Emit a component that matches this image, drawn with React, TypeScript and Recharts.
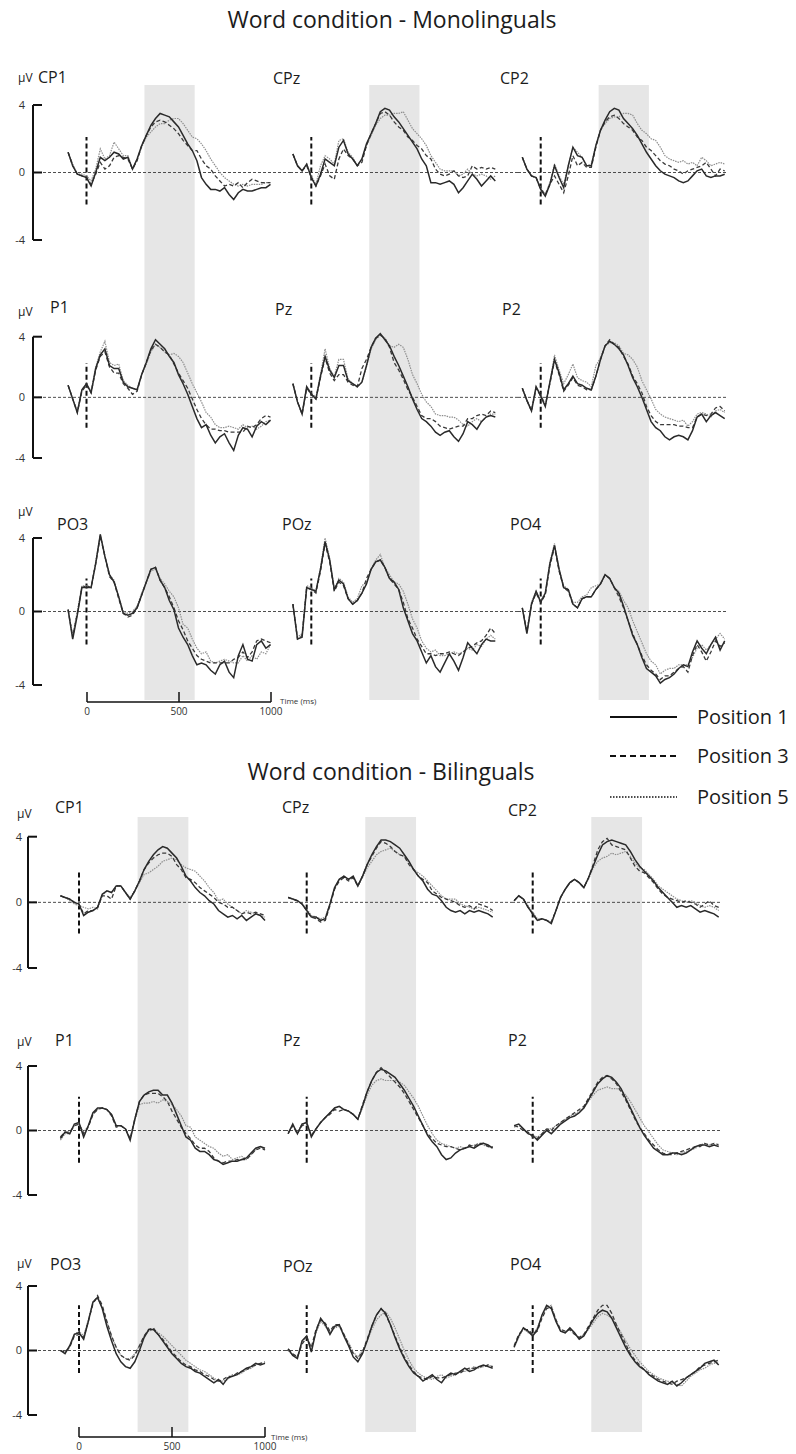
import React from 'react'
import { LineChart, Line, XAxis, YAxis, ReferenceArea, ReferenceLine } from 'recharts'

// time points (ms) shared by every panel
const times = [-100, -75, -50, -25, 0, 25, 50, 75, 100, 125, 150, 175, 200, 225, 250, 275, 300, 325, 350, 375, 400, 425, 450, 475, 500, 525, 550, 575, 600, 625, 650, 675, 700, 725, 750, 775, 800, 825, 850, 875, 900, 925, 950, 975, 1000]

// analysis window (ms)
const window = [315, 588]

// ---- Monolinguals (µV) : _1 = Position 1, _3 = Position 3, _5 = Position 5
const mCP1_1 = [1.2,0.4,-0.1,-0.2,-0.3,-0.8,0,0.9,0.7,0.9,1.2,1.1,0.8,0.9,0.2,0.8,1.6,2.2,2.8,3.2,3.5,3.4,3.3,3.0,2.7,2.2,1.7,1.3,0.7,-0.3,-0.7,-1.0,-1.0,-1.1,-0.9,-1.3,-1.6,-1.2,-1.0,-1.1,-1.1,-1.0,-0.9,-0.9,-0.7]
const mCP1_3 = [1.2,0.4,-0.1,-0.2,-0.3,-0.7,-0.1,0.6,0.2,0.4,0.9,1.0,0.9,0.8,0.2,0.7,1.6,2.2,2.7,3.0,3.1,3.0,2.8,2.6,2.3,1.9,1.6,1.3,1.3,0.8,0.4,0.2,-0.2,-0.5,-0.8,-0.7,-0.8,-0.6,-0.9,-0.6,-0.4,-0.5,-0.6,-0.6,-0.6]
const mCP1_5 = [1.2,0.5,-0.1,-0.1,-0.2,-0.5,0.2,1.4,0.8,1.0,1.8,1.4,1.0,1.0,0.2,0.8,1.5,2.1,2.4,2.7,2.9,2.9,3.1,3.2,3.2,2.9,2.5,2.1,2.0,1.7,1.3,0.8,0.4,0,-0.3,-0.5,-0.7,-0.8,-0.7,-0.8,-0.7,-0.7,-0.7,-0.6,-0.6]

const mCPz_1 = [1.1,0.4,0.1,0.5,-0.3,-0.8,-0.1,0.8,0.6,0.4,1.5,1.9,1.1,0.8,0.4,0.8,1.7,2.3,2.9,3.6,3.8,3.7,3.3,3.0,2.6,2.2,1.8,1.4,0.8,0.4,-0.6,-0.6,-0.7,-0.6,-0.5,-0.7,-1.2,-0.9,-0.5,-0.1,-0.4,-0.8,-0.5,-0.2,-0.5]
const mCPz_3 = [1.1,0.4,0.1,0.4,-0.3,-0.8,-0.2,0.5,-0.2,-0.4,0.8,1.4,1.0,0.8,0.4,0.6,1.6,2.3,2.9,3.5,3.6,3.4,3.0,2.7,2.5,2.1,1.9,1.6,1.4,1.0,0.8,0.2,-0.1,-0.2,-0.1,0.1,-0.2,-0.3,-0.2,0.4,0.2,0.3,0.2,0.3,0.2]
const mCPz_5 = [1.1,0.4,0.1,0.5,-0.2,-0.7,0.4,1.0,0.8,0.5,1.9,2.0,1.2,0.9,0.4,0.8,1.6,2.2,2.8,3.2,3.4,3.4,3.5,3.5,3.6,3.1,2.6,2.3,2.0,1.6,1.0,0.6,0.2,0.1,0.1,0.1,-0.2,-0.1,0.2,-0.1,-0.2,-0.1,-0.2,-0.4,-0.2]

const mCP2_1 = [0.9,0.2,-0.2,-0.3,-1.0,-1.4,-0.7,0.4,-0.3,-0.9,0.4,1.5,1.0,0.9,0.4,0.4,1.6,2.5,3.1,3.6,3.8,3.7,3.2,2.9,2.6,2.2,1.7,1.2,0.8,0.4,0.1,-0.1,-0.2,-0.3,-0.5,-0.6,-0.5,-0.2,0.1,0.2,-0.2,-0.3,-0.2,-0.2,-0.1]
const mCP2_3 = [0.9,0.2,-0.2,-0.3,-1.0,-1.3,-0.7,-0.2,-0.7,-1.2,-0.2,1.0,0.4,0.6,0.3,0.3,1.5,2.5,3.0,3.3,3.4,3.2,2.9,2.7,2.5,2.1,1.9,1.5,1.3,1.0,0.7,0.5,0.4,0.2,0.1,-0.1,0.1,0.2,0.3,0.4,0.6,0.2,-0.2,0.2,0.1]
const mCP2_5 = [0.9,0.2,-0.2,-0.3,-0.9,-1.3,-0.6,0.5,-0.2,-0.7,0.4,1.5,1.2,0.9,0.4,0.5,1.6,2.5,2.9,3.2,3.3,3.3,3.5,3.5,3.4,2.9,2.5,2.3,2.0,1.9,1.5,1.0,0.8,0.7,0.6,0.7,0.5,0.6,0.4,0.9,0.7,0.4,0.5,0.6,0.5]

const mP1_1 = [0.8,-0.1,-1.0,0.5,0.9,0.3,1.9,2.8,3.2,2.1,1.9,1.9,1.0,0.7,0.6,0.5,1.5,2.3,3.2,3.8,3.5,3.2,2.7,2.3,1.5,0.9,0.2,-0.6,-1.4,-2.0,-1.8,-2.5,-3.0,-2.6,-2.4,-3.0,-3.5,-2.5,-2.0,-2.1,-2.6,-1.9,-1.6,-1.8,-1.5]
const mP1_3 = [0.8,-0.1,-1.0,0.4,0.8,0.3,1.8,2.7,3.0,2.0,1.6,1.6,0.9,0.6,0.2,0.4,1.5,2.3,3.1,3.5,3.3,3.0,2.8,2.2,1.6,1.1,0.6,-0.1,-0.8,-1.4,-1.8,-2.1,-2.1,-2.2,-2.2,-2.3,-2.3,-2.3,-2.3,-1.9,-2.0,-1.8,-1.4,-1.2,-1.3]
const mP1_5 = [0.8,-0.1,-0.9,0.5,0.9,0.4,2.0,3.0,3.7,2.3,2.1,2.2,1.1,0.8,0.6,0.5,1.5,2.2,3.0,3.5,3.3,3.0,2.8,2.9,2.7,2.3,1.6,0.9,0.3,-0.3,-1.0,-1.3,-1.8,-2.0,-2.0,-1.9,-2.0,-2.1,-1.8,-2.0,-1.9,-2.1,-1.9,-1.6,-1.5]

const mPz_1 = [0.9,-0.3,-1.1,0.7,0.2,-0.1,1.4,2.7,1.8,1.3,2.1,2.1,1.1,0.9,0.7,1.0,2.1,3.3,3.9,4.2,3.8,3.4,2.7,2.1,1.4,0.7,-0.1,-0.8,-1.4,-1.6,-1.9,-2.3,-2.5,-2.3,-2.2,-2.6,-2.9,-2.4,-1.6,-1.8,-2.1,-1.6,-1.3,-1.2,-1.3]
const mPz_3 = [0.9,-0.3,-1.1,0.6,0.2,-0.1,1.3,2.6,1.6,1.1,1.5,1.5,1.0,0.8,0.7,1.9,2.5,3.3,3.9,4.1,3.9,3.3,2.3,1.8,1.2,0.5,0,-0.6,-1.2,-1.4,-1.4,-1.6,-1.9,-2.0,-2.1,-2.0,-1.9,-1.9,-1.4,-1.4,-1.2,-1.1,-1.2,-0.9,-1.0]
const mPz_5 = [0.9,-0.3,-1.0,0.7,0.3,0,1.5,3.2,1.9,1.4,2.5,2.5,1.2,0.9,0.7,1.0,2.0,3.2,3.8,4.1,3.9,3.4,3.3,3.5,3.3,2.5,1.5,0.9,0.2,-0.3,-0.6,-1.1,-1.2,-1.2,-1.3,-1.3,-1.5,-1.8,-1.9,-1.6,-1.4,-1.6,-1.3,-1.1,-1.1]

const mP2_1 = [0.6,-0.2,-0.9,0.7,0.1,-0.6,1.0,2.5,1.6,0.5,0.9,1.4,0.9,0.8,0.6,0.5,1.4,2.5,3.4,3.7,3.5,3.2,2.8,2.1,1.3,0.7,0,-0.8,-1.6,-2.0,-2.2,-2.6,-2.8,-2.6,-2.5,-2.6,-2.8,-2.2,-1.3,-1.1,-1.6,-1.2,-1.0,-1.2,-1.4]
const mP2_3 = [0.6,-0.2,-0.9,0.6,0.1,-0.5,0.9,2.4,1.5,0.4,0.8,1.3,0.8,0.7,0.5,0.5,1.4,2.5,3.4,3.8,3.5,3.3,2.7,2.2,1.4,0.9,0.3,-0.6,-1.2,-1.6,-1.8,-1.8,-1.8,-1.8,-1.9,-1.9,-2.0,-2.0,-1.3,-1.1,-1.2,-1.1,-0.7,-0.6,-0.9]
const mP2_5 = [0.6,-0.2,-0.8,0.7,0.2,-0.5,1.0,2.8,1.8,0.9,1.5,2.2,1.3,1.1,1.0,0.7,2.1,2.6,3.4,3.6,3.6,3.4,2.9,2.8,2.5,2.0,1.1,0.5,-0.1,-0.8,-1.1,-1.3,-1.4,-1.5,-1.6,-1.5,-1.9,-1.6,-1.1,-1.0,-1.1,-1.3,-0.9,-0.8,-1.0]

const mPO3_1 = [0.1,-1.5,-0.2,1.3,1.3,1.3,2.6,4.2,3.0,2.0,1.6,0.8,-0.1,-0.2,-0.1,0.2,0.9,1.6,2.3,2.4,1.7,1.3,0.6,0.1,-0.9,-1.4,-1.8,-2.4,-2.9,-2.8,-2.9,-3.2,-3.4,-2.9,-2.7,-3.3,-3.6,-2.4,-1.8,-2.6,-2.7,-1.8,-1.6,-2.0,-1.8]
const mPO3_3 = [0.1,-1.4,-0.1,1.3,1.4,1.3,2.6,4.1,3.0,1.9,1.6,0.7,-0.1,-0.3,-0.2,0.2,0.9,1.6,2.3,2.4,1.7,1.3,0.8,0.2,-0.5,-1.0,-1.6,-2.0,-2.4,-2.6,-2.7,-2.8,-2.8,-2.8,-2.8,-2.8,-2.6,-2.5,-2.2,-2.5,-2.2,-1.6,-1.5,-1.6,-1.7]
const mPO3_5 = [0.1,-1.3,0,1.4,1.4,1.3,2.7,4.2,3.0,2.0,1.7,0.8,0,-0.1,0,0.3,1.0,1.6,2.2,2.3,1.8,1.5,1.1,0.8,0.2,-0.7,-0.9,-1.5,-2.0,-2.3,-2.2,-2.7,-2.8,-2.7,-2.6,-2.7,-2.8,-2.8,-2.4,-2.7,-2.4,-2.6,-2.2,-2.3,-1.8]

const mPOz_1 = [0.4,-1.5,-1.4,1.3,1.2,1.1,2.3,3.8,2.8,1.2,1.7,1.5,0.7,0.4,0.6,1.0,1.5,2.3,2.7,2.8,2.4,1.8,1.6,1.2,0.2,-0.5,-1.2,-1.6,-2.2,-2.8,-2.4,-3.0,-3.3,-2.8,-2.3,-2.7,-3.2,-2.5,-1.7,-2.0,-2.3,-1.8,-1.5,-1.6,-1.6]
const mPOz_3 = [0.4,-1.5,-1.3,1.3,1.2,1.0,2.2,3.7,2.7,1.1,1.6,1.4,0.7,0.4,0.6,1.0,1.8,2.3,2.7,2.8,2.4,1.8,1.5,1.2,0.5,-0.4,-0.9,-1.5,-1.9,-2.3,-2.3,-2.4,-2.3,-2.3,-2.2,-2.3,-2.4,-2.2,-2.0,-1.9,-1.7,-1.6,-1.3,-0.9,-1.2]
const mPOz_5 = [0.4,-1.4,-1.2,1.4,1.3,1.1,2.4,4.0,2.9,1.2,1.8,1.6,0.8,0.5,0.7,1.4,1.6,2.3,2.8,3.1,2.4,2.0,1.6,1.5,1.1,0.4,-0.4,-0.9,-1.6,-2.0,-2.2,-2.1,-2.4,-2.4,-2.3,-2.2,-2.3,-2.2,-2.0,-2.1,-1.8,-1.9,-1.5,-1.3,-1.5]

const mPO4_1 = [0.2,-1.2,0.4,1.1,0.5,1.0,2.6,3.6,2.3,1.3,1.2,0.4,0.2,0.7,0.8,0.8,1.2,1.5,2.0,1.8,1.3,1.0,0.3,-0.5,-1.3,-1.8,-2.5,-3.1,-3.3,-3.5,-3.9,-3.7,-3.6,-3.4,-3.1,-2.9,-3.0,-2.2,-1.6,-2.0,-2.3,-1.8,-1.4,-2.1,-1.6]
const mPO4_3 = [0.2,-1.1,0.4,1.0,0.5,0.9,2.5,3.5,2.2,1.3,1.1,0.4,0.2,0.7,0.8,0.8,1.2,1.5,2.0,1.8,1.3,0.8,0.2,-0.5,-1.2,-1.8,-2.4,-2.9,-3.2,-3.4,-3.7,-3.5,-3.5,-3.3,-3.1,-3.0,-3.3,-2.4,-1.8,-2.2,-2.7,-2.2,-1.6,-1.9,-1.7]
const mPO4_5 = [0.2,-1.1,0.5,1.1,0.6,1.0,2.7,3.7,2.3,1.4,1.2,0.5,0.5,0.8,0.9,1.3,1.4,1.5,2.0,1.8,1.3,1.1,0.6,0.2,-0.5,-1.1,-1.7,-2.3,-2.7,-2.9,-3.4,-3.2,-3.1,-3.1,-2.9,-2.9,-2.9,-2.5,-2.0,-1.8,-2.1,-1.8,-1.5,-1.2,-1.5]

// ---- Bilinguals (µV)
const bCP1_1 = [0.4,0.3,0.2,0,-0.1,-0.8,-0.6,-0.5,-0.3,0.5,0.7,0.6,1.0,1.0,0.6,0.2,0.7,1.3,2.0,2.5,2.9,3.2,3.4,3.3,3.0,2.7,2.2,1.6,1.3,0.9,0.6,0.4,0.1,-0.1,-0.5,-0.7,-0.9,-0.8,-1.0,-0.8,-1.1,-0.9,-0.7,-0.8,-1.1]
const bCP1_3 = [0.4,0.3,0.2,0,-0.1,-0.7,-0.5,-0.5,-0.3,0.4,0.4,0.2,1.0,1.0,0.6,0.2,0.7,1.3,2.0,2.4,2.7,2.9,3.0,3.0,2.8,2.3,2.0,1.5,1.4,1.2,0.9,0.7,0.5,0.3,0,-0.1,-0.3,-0.3,-0.5,-0.7,-0.6,-0.7,-0.6,-0.7,-0.8]
const bCP1_5 = [0.4,0.3,0.1,-0.1,-0.2,-0.3,-0.4,-0.3,-0.4,0.4,0.7,0.6,1.0,1.0,0.6,0.3,0.7,1.2,1.7,1.8,2.0,2.2,2.5,2.6,2.7,2.6,2.3,2.1,2.0,1.9,1.6,1.3,0.9,0.6,0.1,0.2,-0.1,-0.3,-0.5,-0.7,-0.5,-0.6,-0.7,-0.8,-0.9]

const bCPz_1 = [0.3,0.2,0.1,-0.1,-0.5,-0.9,-0.9,-1.1,-1.0,-0.1,0.9,1.4,1.6,1.4,1.6,1.0,1.6,2.3,2.9,3.4,3.8,3.8,3.7,3.5,3.3,2.9,2.5,2.0,1.6,1.3,0.8,0.5,0.4,0.1,-0.3,-0.5,-0.6,-0.5,-0.7,-0.5,-0.6,-0.5,-0.6,-0.7,-0.9]
const bCPz_3 = [0.3,0.2,0.1,-0.1,-0.5,-0.9,-1.0,-1.2,-1.1,-0.2,0.8,1.3,1.5,1.3,1.5,1.0,1.6,2.3,2.8,3.3,3.7,3.6,3.4,3.1,2.9,2.8,2.3,2.0,1.6,1.4,1.2,0.7,0.5,0.3,0.2,0.1,0,-0.2,-0.3,-0.2,-0.4,-0.1,-0.2,-0.3,-0.5]
const bCPz_5 = [0.3,0.2,0.1,-0.1,-0.4,-0.8,-0.9,-1.0,-0.9,-0.1,0.9,1.4,1.6,1.4,1.5,1.0,1.5,2.1,2.5,2.9,3.1,3.2,3.3,3.1,2.9,2.8,2.4,2.0,1.8,1.6,1.3,1.0,0.7,0.4,0.2,0.2,0.2,-0.1,-0.2,-0.3,-0.4,-0.3,-0.4,-0.5,-0.6]

const bCP2_1 = [0.1,0.4,0.2,-0.3,-0.7,-1.1,-1.0,-1.1,-1.3,-0.5,0.3,0.8,1.2,1.4,1.2,0.9,1.5,2.2,2.9,3.5,3.7,3.8,3.7,3.6,3.5,3.1,2.6,2.2,1.9,1.6,1.3,0.9,0.6,0.3,0,-0.3,-0.2,-0.3,-0.2,-0.4,-0.6,-0.5,-0.6,-0.7,-0.9]
const bCP2_3 = [0.1,0.4,0.2,-0.3,-0.7,-1.1,-1.0,-1.1,-1.2,-0.5,0.3,0.8,1.2,1.4,1.2,0.9,1.5,2.3,3.2,3.7,3.9,3.5,3.4,3.3,3.2,2.7,2.2,1.9,1.8,1.5,1.2,0.8,0.5,0.3,0.2,0.1,0,0.1,0,-0.1,-0.3,-0.1,0.1,-0.2,-0.3]
const bCP2_5 = [0.1,0.4,0.2,-0.2,-0.6,-1.0,-1.0,-1.1,-1.2,-0.5,0.3,0.8,1.2,1.4,1.2,0.9,1.4,2.1,2.5,2.7,2.8,3.0,2.9,3.0,3.1,2.8,2.4,2.1,2.0,1.7,1.4,1.0,0.8,0.6,0.4,0.2,0.1,0,0.1,0,-0.2,-0.3,-0.2,-0.3,-0.5]

const bP1_1 = [-0.5,-0.1,-0.2,0.4,0.5,-0.4,0.3,1.1,1.4,1.4,1.3,1.0,0.3,0.3,0.1,-0.6,0.7,1.8,2.2,2.4,2.5,2.5,2.2,2.2,1.7,1.0,0.3,-0.4,-0.6,-1.1,-1.3,-1.3,-1.5,-1.8,-1.9,-2.1,-2.0,-1.9,-1.9,-1.8,-1.7,-1.4,-1.1,-1.0,-1.1]
const bP1_3 = [-0.4,-0.1,-0.1,0.3,0.4,-0.2,0.2,1.0,1.3,1.4,1.3,0.9,0.2,0.3,0.1,-0.5,0.7,1.8,2.2,2.3,2.3,2.3,2.1,1.8,1.2,0.7,0.2,-0.2,-0.5,-0.9,-1.1,-1.1,-1.3,-1.7,-1.9,-2.0,-1.9,-1.9,-1.8,-1.8,-1.8,-1.5,-1.2,-1.1,-1.2]
const bP1_5 = [-0.6,-0.2,-0.2,0.3,0.4,-0.1,0.3,1.0,1.3,1.4,1.3,1.0,0.3,0.3,0.1,-0.5,0.6,1.6,1.7,1.7,1.8,1.7,1.9,1.8,1.6,1.3,0.9,0.3,0.2,-0.4,-0.6,-0.8,-1.0,-1.1,-1.4,-1.6,-1.5,-1.8,-1.7,-1.6,-1.8,-1.5,-1.2,-1.0,-1.2]

const bPz_1 = [-0.2,0.4,-0.2,0.4,0.5,-0.4,0.1,0.5,0.8,1.1,1.4,1.5,1.3,1.2,1.0,0.7,1.5,2.4,3.1,3.6,3.8,3.7,3.5,3.3,2.9,2.5,2.0,1.5,0.9,0.3,-0.3,-0.7,-1.0,-1.5,-1.8,-1.7,-1.4,-1.2,-1.1,-1.0,-1.1,-0.9,-0.8,-0.9,-1.1]
const bPz_3 = [-0.2,0.3,-0.2,0.3,0.4,-0.3,0.1,0.5,0.8,1.0,1.3,1.2,1.3,1.2,1.0,0.7,1.6,2.4,3.1,3.6,3.9,3.6,3.3,3.0,2.7,2.3,1.8,1.3,0.8,0.3,-0.2,-0.5,-0.8,-0.9,-1.0,-1.0,-1.1,-1.2,-1.1,-0.9,-1.0,-0.8,-0.8,-1.0,-1.0]
const bPz_5 = [-0.1,0.3,-0.1,0.4,0.5,-0.3,0.1,0.5,0.8,1.1,1.4,1.5,1.3,1.2,1.0,0.7,1.4,2.2,2.8,3.1,3.2,3.1,3.1,3.1,3.0,2.8,2.4,2.0,1.5,0.9,0.3,-0.2,-0.6,-0.8,-0.9,-1.0,-1.1,-1.0,-1.1,-1.0,-0.9,-0.8,-0.9,-1.0,-1.1]

const bP2_1 = [0.3,0.4,0.1,-0.2,-0.3,-0.6,-0.3,0,-0.2,0.1,0.4,0.6,0.8,0.9,1.1,1.4,1.9,2.4,2.9,3.2,3.4,3.3,3.0,2.6,2.0,1.4,0.8,0.2,-0.3,-0.7,-1.1,-1.3,-1.5,-1.5,-1.4,-1.4,-1.5,-1.4,-1.2,-1.0,-0.9,-0.9,-1.0,-0.9,-1.0]
const bP2_3 = [0.3,0.2,0,-0.1,-0.4,-0.5,-0.2,0.1,0,0.3,0.5,0.7,0.9,1.1,1.3,1.5,2.0,2.5,3.0,3.3,3.4,3.2,2.9,2.4,1.9,1.3,0.7,0.2,-0.2,-0.6,-0.9,-1.2,-1.4,-1.5,-1.5,-1.4,-1.3,-1.2,-1.1,-1.0,-1.0,-0.8,-0.9,-0.8,-0.9]
const bP2_5 = [0.2,0.3,0.1,-0.2,-0.3,-0.4,-0.2,0.1,0.1,0.3,0.5,0.7,0.9,1.0,1.2,1.4,1.8,2.2,2.5,2.6,2.7,2.6,2.6,2.5,2.2,1.8,1.3,0.8,0.3,-0.1,-0.5,-0.9,-1.2,-1.3,-1.4,-1.5,-1.4,-1.3,-1.2,-1.1,-0.9,-0.8,-0.9,-0.9,-0.8]

const bPO3_1 = [0,-0.2,0.3,1.0,1.1,0.7,1.8,3.0,3.3,2.6,1.5,0.6,-0.2,-0.7,-1.0,-1.1,-0.7,0,0.8,1.3,1.3,1.0,0.6,0.2,-0.2,-0.5,-0.8,-1.0,-1.1,-1.3,-1.4,-1.6,-1.8,-2.0,-1.8,-2.1,-1.7,-1.6,-1.5,-1.3,-1.1,-1.0,-0.8,-0.9,-0.8]
const bPO3_3 = [0,-0.1,0.2,0.9,1.0,0.8,1.8,2.9,3.4,2.8,1.8,0.9,0.2,-0.3,-0.5,-0.6,-0.3,0.3,0.9,1.3,1.4,1.0,0.7,0.3,-0.1,-0.4,-0.7,-0.9,-1.0,-1.2,-1.3,-1.5,-1.6,-1.8,-1.9,-1.8,-1.6,-1.6,-1.4,-1.3,-1.2,-1.0,-0.9,-0.8,-0.7]
const bPO3_5 = [0,-0.1,0.2,1.0,1.2,0.9,1.9,3.0,3.2,2.7,1.8,0.9,0.2,-0.3,-0.5,-0.5,-0.2,0.3,0.9,1.2,1.3,1.1,0.9,0.6,0.3,0,-0.3,-0.6,-0.8,-1.0,-1.2,-1.3,-1.5,-1.7,-1.9,-1.9,-1.8,-1.5,-1.5,-1.4,-1.2,-1.1,-0.9,-0.8,-0.8]

const bPOz_1 = [0.1,-0.3,-0.5,0.6,0.9,-0.1,1.2,2.0,1.6,1.0,1.5,1.6,0.9,0.3,-0.4,-0.7,-0.2,0.6,1.5,2.2,2.6,2.3,1.6,0.8,0.1,-0.5,-1.0,-1.4,-1.6,-1.9,-1.7,-1.5,-1.8,-2.0,-1.6,-1.4,-1.5,-1.3,-1.1,-1.3,-1.2,-1.0,-0.9,-1.0,-1.1]
const bPOz_3 = [0.1,-0.2,-0.4,0.4,0.8,0.2,1.3,1.9,1.7,1.2,1.6,1.6,1.0,0.4,-0.2,-0.5,-0.1,0.7,1.5,2.2,2.6,2.2,1.6,0.9,0.2,-0.4,-0.9,-1.3,-1.6,-1.7,-1.8,-1.6,-1.7,-1.7,-1.6,-1.5,-1.4,-1.4,-1.2,-1.1,-1.1,-1.0,-1.0,-0.9,-1.0]
const bPOz_5 = [0,-0.3,-0.4,0.5,0.9,0.1,1.1,1.8,1.5,1.1,1.4,1.5,1.0,0.5,-0.1,-0.4,0,0.6,1.3,1.9,2.2,2.4,2.0,1.4,0.7,0,-0.6,-1.1,-1.4,-1.6,-1.7,-1.8,-1.6,-1.5,-1.7,-1.6,-1.5,-1.3,-1.3,-1.2,-1.0,-1.1,-1.0,-0.9,-1.0]

const bPO4_1 = [0.2,0.9,1.4,1.2,0.9,1.3,2.2,2.8,2.6,1.8,1.2,1.1,1.4,1.1,0.7,0.9,1.4,1.9,2.3,2.5,2.4,2.0,1.4,0.8,0.2,-0.3,-0.7,-1.0,-1.2,-1.5,-1.7,-1.9,-2.0,-2.1,-1.9,-2.2,-2.0,-1.7,-1.5,-1.3,-1.1,-0.8,-0.7,-0.6,-0.9]
const bPO4_3 = [0.3,1.0,1.3,1.3,1.0,1.2,2.0,2.6,2.7,1.9,1.3,1.2,1.3,1.0,0.8,1.0,1.5,2.0,2.5,2.8,2.8,2.3,1.6,1.0,0.4,-0.2,-0.6,-0.9,-1.2,-1.4,-1.6,-1.8,-1.9,-2.0,-2.1,-1.9,-1.8,-1.7,-1.5,-1.3,-1.0,-0.9,-0.8,-0.7,-0.6]
const bPO4_5 = [0.2,0.8,1.4,1.1,1.0,1.4,2.1,2.7,2.8,1.9,1.2,1.1,1.3,1.0,0.8,1.0,1.3,1.7,2.1,2.3,2.2,2.0,1.6,1.1,0.6,0.1,-0.3,-0.7,-1.0,-1.3,-1.5,-1.7,-1.8,-1.9,-2.0,-2.1,-2.2,-1.9,-1.6,-1.4,-1.2,-1.1,-0.9,-0.8,-0.7]

const electrodes = ['CP1', 'CPz', 'CP2', 'P1', 'Pz', 'P2', 'PO3', 'POz', 'PO4']
const monoSeries = [
  [mCP1_1, mCP1_3, mCP1_5], [mCPz_1, mCPz_3, mCPz_5], [mCP2_1, mCP2_3, mCP2_5],
  [mP1_1, mP1_3, mP1_5], [mPz_1, mPz_3, mPz_5], [mP2_1, mP2_3, mP2_5],
  [mPO3_1, mPO3_3, mPO3_5], [mPOz_1, mPOz_3, mPOz_5], [mPO4_1, mPO4_3, mPO4_5],
]
const bilSeries = [
  [bCP1_1, bCP1_3, bCP1_5], [bCPz_1, bCPz_3, bCPz_5], [bCP2_1, bCP2_3, bCP2_5],
  [bP1_1, bP1_3, bP1_5], [bPz_1, bPz_3, bPz_5], [bP2_1, bP2_3, bP2_5],
  [bPO3_1, bPO3_3, bPO3_5], [bPOz_1, bPOz_3, bPOz_5], [bPO4_1, bPO4_3, bPO4_5],
]
const legendNames = ['Position 1', 'Position 3', 'Position 5']
const scaleTicks = [0, 500, 1000]
const yTicks = [-4, 0, 4]

// ---- layout (pixels)
const FONT = '"Open Sans", "DejaVu Sans", sans-serif'
const INK = '#1c1c1c'

const mono = {
  title: 'Word condition - Monolinguals', titleX: 392, titleY: 28,
  k: 0.184,
  x0: [86.5, 311.3, 540.7],
  edges: [33, 290, 518, 726],
  tickGap: 8,
  rows: [
    { top: 85, bottom: 290, p4: 105, pm4: 240, stim: [-1.9, 2.1] },
    { top: 290, bottom: 500, p4: 336.7, pm4: 458, stim: [-2.0, 2.25] },
    { top: 500, bottom: 700, p4: 538, pm4: 685, stim: [-1.8, 1.8] },
  ],
  uv: [[18, 82], [18, 316], [18, 516]],
  labels: [[38, 83], [273, 84], [500, 84], [50, 313], [275, 315], [502, 315], [57, 530], [282, 530], [510, 530]],
  scaleY: 702, timeLabel: [280, 704],
}
const bil = {
  title: 'Word condition - Bilinguals', titleX: 391, titleY: 780,
  k: 0.186,
  x0: [79, 306.7, 532.7],
  edges: [28, 285, 512, 722],
  tickGap: 6,
  rows: [
    { top: 817, bottom: 1030, p4: 836.7, pm4: 968, stim: [-1.9, 2.0] },
    { top: 1030, bottom: 1255, p4: 1066, pm4: 1195, stim: [-2.0, 2.1] },
    { top: 1255, bottom: 1432, p4: 1286, pm4: 1415, stim: [-1.4, 2.8] },
  ],
  uv: [[17, 818], [17, 1046], [17, 1268]],
  labels: [[55, 813], [282, 813], [508, 816], [55, 1046], [283, 1046], [508, 1046], [50, 1270], [283, 1272], [510, 1270]],
  scaleY: 1437, timeLabel: [271, 1440],
}

function Panel({ sec, row, col, series }) {
  const r = sec.rows[row]
  const left = sec.edges[col]
  const right = sec.edges[col + 1]
  const chartLeft = col === 0 ? 0 : left
  const x0 = sec.x0[col]
  const s = (r.pm4 - r.p4) / 8
  const yDom = [-4 - (r.bottom - r.pm4) / s, 4 + (r.p4 - r.top) / s]
  const xDom = [(left - x0) / sec.k, (right - x0) / sec.k]
  const tickLen = 9 / sec.k
  const data = times.map((t, i) => ({ t, p1: series[0][i], p3: series[1][i], p5: series[2][i] }))

  return (
    <div style={{ position: 'absolute', left: chartLeft, top: r.top }}>
      <LineChart width={right - chartLeft} height={r.bottom - r.top} data={data} margin={{ top: 0, right: 0, bottom: 0, left: 0 }}>
        <XAxis type="number" dataKey="t" domain={xDom} allowDataOverflow hide />
        {col === 0 ? (
          <YAxis type="number" domain={yDom} allowDataOverflow width={left} ticks={yTicks} interval={0}
            axisLine={false} tickLine={false} tickSize={0} tickMargin={sec.tickGap}
            tick={{ fontSize: 11, fill: '#333' }} />
        ) : (
          <YAxis type="number" domain={yDom} allowDataOverflow hide />
        )}
        <ReferenceArea x1={window[0]} x2={window[1]} fill="#e6e6e6" fillOpacity={1} stroke="none" />
        <ReferenceLine y={0} stroke="#3a3a3a" strokeWidth={0.9} strokeDasharray="3 2" />
        {col === 0 && (
          <ReferenceLine segment={[{ x: xDom[0], y: 4 }, { x: xDom[0], y: -4 }]} stroke="#111" strokeWidth={2} ifOverflow="visible" />
        )}
        {col === 0 && yTicks.map((v) => (
          <ReferenceLine key={v} segment={[{ x: xDom[0], y: v }, { x: xDom[0] + tickLen, y: v }]} stroke="#111" strokeWidth={2} ifOverflow="visible" />
        ))}
        <ReferenceLine segment={[{ x: 0, y: r.stim[0] }, { x: 0, y: r.stim[1] }]} stroke="#111" strokeWidth={2} strokeDasharray="5 3" />
        <Line type="linear" dataKey="p5" stroke="#8e8e8e" strokeWidth={1.2} strokeDasharray="1.5 1" dot={false} isAnimationActive={false} />
        <Line type="linear" dataKey="p3" stroke="#3a3a3a" strokeWidth={1.3} strokeDasharray="4 2.5" dot={false} isAnimationActive={false} />
        <Line type="linear" dataKey="p1" stroke="#2a2a2a" strokeWidth={1.5} dot={false} isAnimationActive={false} />
      </LineChart>
    </div>
  )
}

function TimeScale({ sec }) {
  const pad = 20
  const w = 1000 * sec.k
  return (
    <div style={{ position: 'absolute', left: sec.x0[0] - pad, top: sec.scaleY - 10 }}>
      <LineChart width={w + pad * 2} height={30} data={scaleTicks.map((t) => ({ t, v: 0 }))} margin={{ top: 0, right: pad, bottom: 0, left: pad }}>
        <XAxis type="number" dataKey="t" domain={[0, 1000]} ticks={scaleTicks} interval={0} height={20}
          tickLine={false} tickSize={0} tickMargin={6}
          axisLine={{ stroke: '#111', strokeWidth: 1.5 }} tick={{ fontSize: 10, fill: '#333' }} />
        <YAxis type="number" domain={[0, 1]} allowDataOverflow hide />
        {scaleTicks.map((t) => (
          <ReferenceLine key={t} segment={[{ x: t, y: 0 }, { x: t, y: 1 }]} stroke="#111" strokeWidth={1.5} ifOverflow="visible" />
        ))}
        <Line type="linear" dataKey="v" stroke="none" dot={false} isAnimationActive={false} />
      </LineChart>
    </div>
  )
}

function Section({ sec, seriesList }) {
  return (
    <>
      {electrodes.map((name, i) => (
        <Panel key={name} sec={sec} row={Math.floor(i / 3)} col={i % 3} series={seriesList[i]} />
      ))}
      <TimeScale sec={sec} />
    </>
  )
}

function Texts({ sec }) {
  return (
    <>
      <text x={sec.titleX} y={sec.titleY} textAnchor="middle" fontSize={23} fill={INK}>{sec.title}</text>
      {sec.uv.map(([x, y], i) => (
        <text key={'uv' + i} x={x} y={y} fontSize={12} fill={INK}>µV</text>
      ))}
      {electrodes.map((name, i) => (
        <text key={name} x={sec.labels[i][0]} y={sec.labels[i][1]} fontSize={16} fill={INK}>{name}</text>
      ))}
      <text x={sec.timeLabel[0]} y={sec.timeLabel[1]} fontSize={8} fill="#333">Time (ms)</text>
    </>
  )
}

const legendY = [717, 756, 797]
const legendDash = [undefined, '6 4', '1.5 1.5']
const legendWidth = [2, 1.8, 1.6]

export default function App() {
  return (
    <div style={{ position: 'absolute', left: 0, top: 0, width: 796, height: 1454, background: '#fff', fontFamily: FONT, overflow: 'hidden' }}>
      <Section sec={mono} seriesList={monoSeries} />
      <Section sec={bil} seriesList={bilSeries} />
      <svg width={796} height={1454} style={{ position: 'absolute', left: 0, top: 0, pointerEvents: 'none' }} fontFamily={FONT}>
        <Texts sec={mono} />
        <Texts sec={bil} />
        {legendNames.map((name, i) => (
          <g key={name}>
            <line x1={610} x2={677} y1={legendY[i]} y2={legendY[i]} stroke="#111" strokeWidth={legendWidth[i]} strokeDasharray={legendDash[i]} />
            <text x={697} y={legendY[i] + 7} fontSize={20} fill={INK}>{name}</text>
          </g>
        ))}
      </svg>
    </div>
  )
}
